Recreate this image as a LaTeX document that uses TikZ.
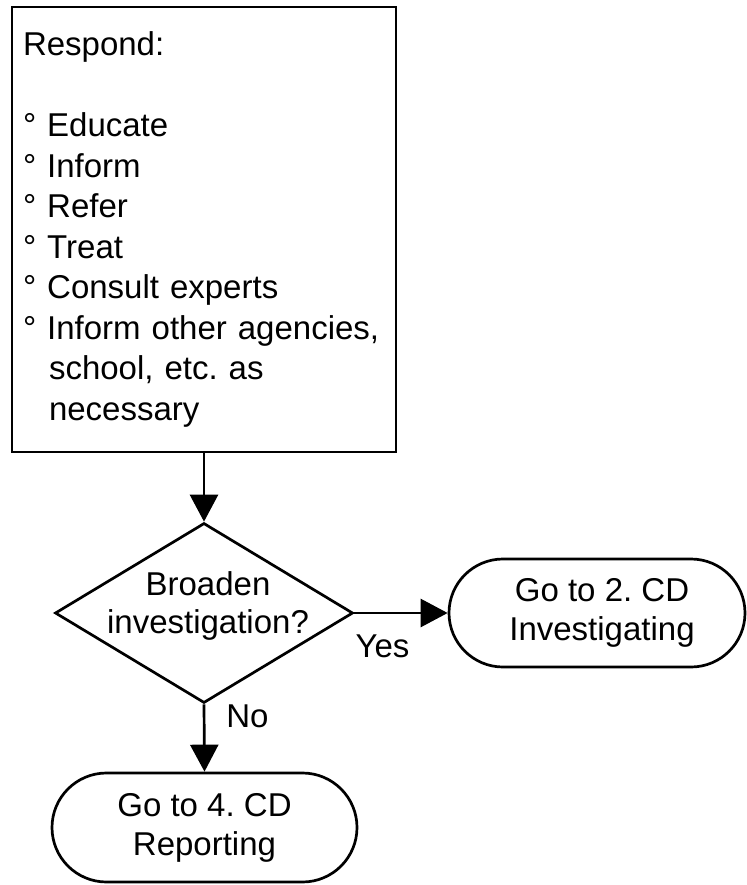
\documentclass[tikz,border=0pt]{standalone}
\usepackage{fontspec}
\setmainfont{Liberation Sans}
\usetikzlibrary{shapes.geometric,shapes.misc,arrows.meta}
\frenchspacing
\tikzset{
  every node/.style={font=\fontsize{33}{40}\selectfont},
  procbox/.style={draw, line width=2.7pt, rectangle, minimum width=384pt, minimum height=445pt, text width=362pt, inner xsep=11pt, inner ysep=0pt, align=left, font=\fontsize{33}{40.5}\selectfont\frenchspacing},
  decision/.style={draw, line width=2.7pt, diamond, minimum width=298pt, minimum height=180pt, inner sep=0pt},
  terminal/.style={draw, line width=2.7pt, rounded rectangle, inner sep=0pt, align=center, font=\fontsize{33}{39}\selectfont\frenchspacing},
  flow/.style={line width=2.7pt, -{Triangle[width=28pt,length=27pt]}},
  lbl/.style={inner sep=0pt}
}
\begin{document}
\begin{tikzpicture}[x=1pt,y=-1pt]
\useasboundingbox (0,0) rectangle (746,885);
\node[procbox] (resp) at (204,229.5) {Respond:\\[40.5pt]
° Educate\\
° Inform\\
° Refer\\
° Treat\\
° Consult experts\\
° Inform other agencies,\\
\hspace*{26pt}school, etc. as\\
\hspace*{26pt}necessary};
\node[decision] (dec) at (204,613) {};
\node[lbl, align=center, font=\fontsize{33}{38}\selectfont] (dectext) at (208,606) {Broaden\\investigation?};
\node[terminal, minimum width=296pt, minimum height=108pt] (inv) at (597,613) {\hspace*{10pt}Go to 2. CD\\\hspace*{10pt}Investigating};
\node[terminal, minimum width=305pt, minimum height=109pt] (rep) at (204.5,827.5) {Go to 4. CD\\Reporting};
\draw[flow] (resp.south) -- (dec.north);
\draw[flow] (dec.east) -- (inv.west);
\draw[flow] (dec.south) -- (rep.north);
\node[lbl] (yes) at (382.5,646) {Yes};
\node[lbl] (no) at (247.5,716.5) {No};
\end{tikzpicture}
\end{document}
